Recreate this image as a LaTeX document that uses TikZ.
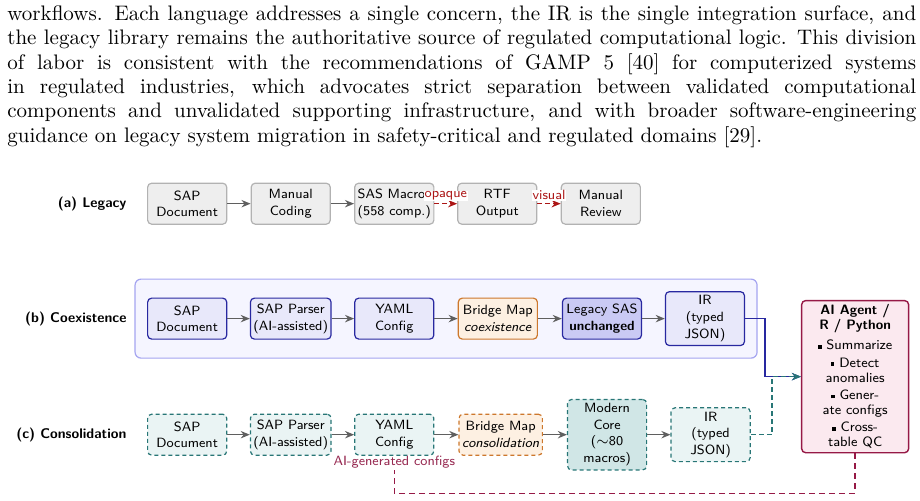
\documentclass[tikz,border=0pt]{standalone}
\usepackage{amsmath,amssymb}
\usepackage{xcolor}
\usepackage{tikz}
\usetikzlibrary{arrows.meta, fit, backgrounds}
\definecolor{legfill}{RGB}{238,238,238}
\definecolor{legdraw}{RGB}{178,178,178}
\definecolor{arrgray}{RGB}{95,95,95}
\definecolor{opqred}{RGB}{172,22,22}
\definecolor{coxblue}{RGB}{40,40,160}
\definecolor{coxfill}{RGB}{232,232,250}
\definecolor{coxdeep}{RGB}{202,202,244}
\definecolor{coxpane}{RGB}{245,245,255}
\definecolor{coxedge}{RGB}{165,165,240}
\definecolor{brgdraw}{RGB}{205,120,45}
\definecolor{brgfill}{RGB}{253,240,226}
\definecolor{conteal}{RGB}{40,118,118}
\definecolor{confill}{RGB}{234,244,244}
\definecolor{condeep}{RGB}{208,230,230}
\definecolor{agtdraw}{RGB}{150,25,70}
\definecolor{agtfill}{RGB}{251,233,239}
\definecolor{agttext}{RGB}{150,40,80}
\newcommand{\boxfont}{\sffamily\fontsize{6.7}{8.3}\selectfont}
\newcommand{\bul}{\rule[0.2ex]{0.6ex}{0.6ex}}
\tikzset{
    para/.style  ={anchor=north west, inner sep=0pt, text width=454.5pt,
                   align=justify, font=\fontsize{10.5}{12.2}\selectfont},
    blk/.style   ={draw=legdraw, line width=0.6pt, fill=legfill,
                   minimum width=1.39cm, minimum height=0.72cm,
                   inner xsep=1.5pt, inner ysep=2pt,
                   align=center, font=\boxfont, rounded corners=2pt},
    coxblk/.style={blk, draw=coxblue, fill=coxfill},
    conblk/.style={blk, draw=conteal, fill=confill, dash pattern=on 2pt off 1.5pt},
    brgblk/.style={blk, draw=brgdraw, fill=brgfill},
    pane/.style  ={draw=coxedge, line width=0.6pt, fill=coxpane,
                   rounded corners=3pt, inner sep=6pt},
    agent/.style ={draw=agtdraw, line width=0.7pt, fill=agtfill,
                   minimum width=1.88cm, minimum height=2.67cm, inner sep=2pt,
                   align=center, font=\sffamily\fontsize{6.8}{7.5}\selectfont,
                   rounded corners=2pt},
    rowlbl/.style={anchor=east, inner sep=0pt,
                   font=\sffamily\bfseries\fontsize{7}{8.3}\selectfont},
    lbl/.style   ={font=\boxfont, text=opqred, fill=white, inner sep=0.3pt, yshift=1.2pt},
    genlbl/.style={font=\boxfont, text=agttext, inner sep=1pt},
    ar/.style    ={-{Stealth[length=1.6mm, width=1.3mm]}, line width=0.7pt, draw=arrgray},
    arr/.style   ={ar, draw=opqred, dash pattern=on 2.5pt off 1.5pt},
    arb/.style   ={ar, draw=coxblue},
    art/.style   ={ar, draw=conteal, dash pattern=on 2.5pt off 1.5pt},
    fb/.style    ={line width=0.7pt, draw=agtdraw, dash pattern=on 3pt off 2pt}
}

\begin{document}
\begin{tikzpicture}[x=1cm, y=1cm]
  \useasboundingbox (0,0) rectangle (16.17,-8.805);

  \node[para] (txt) at (0.123,-0.088) {\noindent workflows. Each language addresses a single concern, the IR is the single integration surface, and\linebreak the legacy library remains the authoritative source of regulated computational logic. This division\linebreak of labor is consistent with the recommendations of GAMP 5 [40] for computerized systems\linebreak in regulated industries, which advocates strict separation between validated computational\linebreak components and unvalidated supporting infrastructure, and with broader software-engineering\linebreak guidance on legacy system migration in safety-critical and regulated domains [29].};

  % (a) legacy
  \node[rowlbl] (lbla) at (2.23,-3.58) {(a) Legacy};
  \node[blk] (sapa) at (3.29,-3.58)  {SAP\\Document};
  \node[blk] (coda) at (5.11,-3.58)  {Manual\\Coding};
  \node[blk, align=left] (sasa) at (6.93,-3.58) {SAS Macro\\(558 comp.)};
  \node[blk] (rtfa) at (8.74,-3.58)  {RTF\\Output};
  \node[blk] (reva) at (10.56,-3.58) {Manual\\Review};

  \draw[ar]  (sapa) -- (coda);
  \draw[ar]  (coda) -- (sasa);
  \draw[arr] (sasa) -- node[lbl, above] {opaque} (rtfa);
  \draw[arr] (rtfa) -- node[lbl, above] {visual} (reva);

  % (b) coexistence
  \node[rowlbl] (lblb) at (2.23,-5.60) {(b) Coexistence};
  \node[coxblk] (sapb) at (3.29,-5.60)  {SAP\\Document};
  \node[coxblk] (parb) at (5.11,-5.60)  {SAP Parser\\(AI-assisted)};
  \node[coxblk] (ymlb) at (6.93,-5.60)  {YAML\\Config};
  \node[brgblk] (brgb) at (8.75,-5.60)  {Bridge Map\\\textit{coexistence}};
  \node[coxblk, fill=coxdeep] (sasb) at (10.58,-5.60) {Legacy SAS\\\textbf{unchanged}};
  \node[coxblk] (irb)  at (12.39,-5.60) {IR\\(typed\\JSON)};
  \begin{scope}[on background layer]
    \node[pane, fit=(sapb)(irb)] (coex) {};
  \end{scope}

  \draw[ar] (sapb) -- (parb);
  \draw[ar] (parb) -- (ymlb);
  \draw[ar] (ymlb) -- (brgb);
  \draw[ar] (brgb) -- (sasb);
  \draw[ar] (sasb) -- (irb);

  % (c) consolidation
  \node[rowlbl] (lblc) at (2.23,-7.64) {(c) Consolidation};
  \node[conblk] (sapc) at (3.29,-7.64)  {SAP\\Document};
  \node[conblk] (parc) at (5.11,-7.64)  {SAP Parser\\(AI-assisted)};
  \node[conblk] (ymlc) at (6.93,-7.64)  {YAML\\Config};
  \node[brgblk, dash pattern=on 2pt off 1.5pt] (brgc) at (8.80,-7.64) {Bridge Map\\\textit{consolidation}};
  \node[conblk, fill=condeep] (modc) at (10.67,-7.64) {Modern\\Core\\($\sim$80\\macros)};
  \node[conblk] (irc)  at (12.49,-7.64) {IR\\(typed\\JSON)};
  \node[genlbl] (gen) at (6.93,-8.12) {AI-generated configs};

  \draw[ar] (sapc) -- (parc);
  \draw[ar] (parc) -- (ymlc);
  \draw[ar] (ymlc) -- (brgc);
  \draw[ar] (brgc) -- (modc);
  \draw[ar] (modc) -- (irc);

  % agent
  \node[agent] (agent) at (15.03,-6.62) {\textbf{AI Agent /}\\\textbf{R / Python}\\[2.5pt]
    \bul\ Summarize\\[1.2pt] \bul\ Detect\\anomalies\\[1.2pt]
    \bul\ Gener-\\ate configs\\[1.2pt] \bul\ Cross-\\table QC};

  \draw[arb] (irb.east) -- ++(0.35,0) |- (agent.west);
  \draw[art] (irc.east) -- ++(0.37,0) |- (agent.west);
  \draw[fb]  (agent.south) -- ++(0,-0.70) -| (gen.south);
\end{tikzpicture}
\end{document}
